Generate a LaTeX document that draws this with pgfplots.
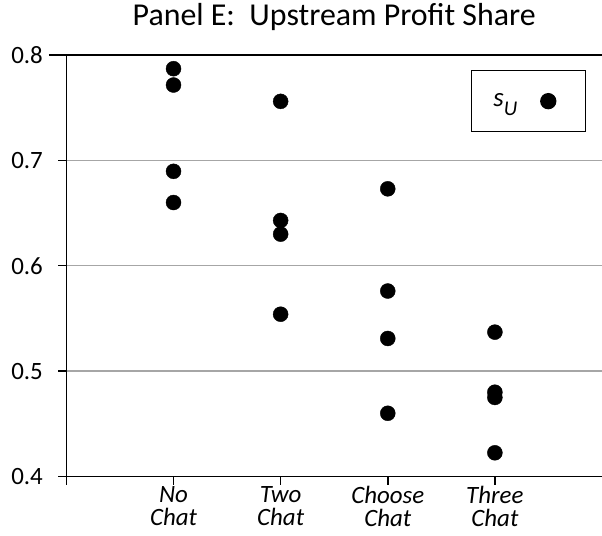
\documentclass[border=0pt]{standalone}
\usepackage{pgfplots}
\pgfplotsset{compat=1.18}
\usepackage{fontspec}
\setmainfont{Carlito}
\definecolor{gridgray}{HTML}{A6A6A6}
\begin{document}
\begin{tikzpicture}
\begin{axis}[name=ax, at={(0,0)}, anchor=south west,
  scale only axis, width=535.6bp, height=421.5bp,
  xmin=0, xmax=5, ymin=0.4, ymax=0.8,
  axis x line*=bottom, axis y line*=left,
  axis line style={line width=1.5bp, black, -},
  xtick={0,1,2,3,4},
  xticklabels={,No\\Chat,Two\\Chat,Choose\\Chat,Three\\Chat},
  ytick={0.4,0.5,0.6,0.7,0.8},
  yticklabel style={/pgf/number format/fixed, /pgf/number format/precision=1, /pgf/number format/fixed zerofill, xshift=-12bp},
  /pgf/number format/assume math mode=true,
  tick align=outside, major tick length=8bp,
  tick style={line width=1.5bp, black},
  ymajorgrids, grid style={line width=1.3bp, gridgray},
  ticklabel style={font=\fontsize{25}{26}\selectfont},
  xticklabel style={align=center, font=\fontsize{25}{23.4}\selectfont\itshape, yshift=-0.5bp, inner ysep=1bp},
  title={Panel E:\ \ Upstream Profit Share},
  title style={font=\fontsize{32}{36}\selectfont, at={(0.5,1)}, anchor=base, yshift=23.3bp},
  legend plot pos=right,
  legend style={draw=black, line width=1.3bp, at={(rel axis cs:0.970,0.9644)}, anchor=north east,
    inner xsep=22bp, inner ysep=23bp, nodes={inner sep=0pt},
    font=\fontsize{27}{28}\selectfont},
  legend image code/.code={\path[draw=none] (-31bp,0) -- (15bp,0); \path[draw=none] plot[mark=*] coordinates {(0bp,0bp)};},
  clip=false,
]
\addplot[only marks, mark=*, mark size=7.5bp, black] coordinates {
  (1,0.787) (1,0.7715) (1,0.6896) (1,0.660)
  (2,0.756) (2,0.643) (2,0.630) (2,0.554)
  (3,0.673) (3,0.576) (3,0.531) (3,0.460)
  (4,0.537) (4,0.480) (4,0.475) (4,0.4225)
};
\addlegendentry{\textit{s}{\fontsize{21}{21}\selectfont\raisebox{-9bp}{\textit{U}}}}
\draw[black, line width=1.5bp] ([xshift=-17.4bp]rel axis cs:0,1) -- (rel axis cs:1,1);
\end{axis}
\pgfresetboundingbox
\path ([xshift=-66.4bp,yshift=-59.5bp]ax.south west) rectangle ([yshift=55bp]ax.north east);
\end{tikzpicture}
\end{document}
